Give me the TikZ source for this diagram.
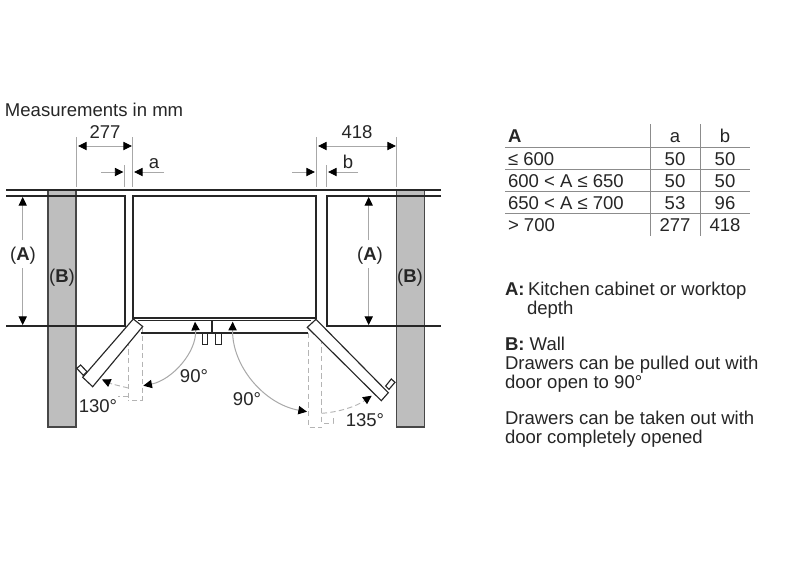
\documentclass[tikz,border=0pt]{standalone}
\usepackage{fontspec}
\setmainfont{Liberation Sans}
\usetikzlibrary{arrows.meta}
\definecolor{ink}{HTML}{262626}
\definecolor{wallgray}{HTML}{BEBEBE}
\definecolor{thin}{HTML}{A8A8A8}
\definecolor{dashgray}{HTML}{B4B4B4}
\tikzset{
  plan/.style={draw=black!85,line width=0.85pt},
  wall/.style={fill=wallgray,draw=black!72,line width=0.85pt},
  door/.style={fill=white,draw=black!85,line width=0.85pt},
  extline/.style={draw=thin,line width=0.65pt},
  dimline/.style={draw=thin,line width=0.65pt},
  tip/.style={-{Triangle[length=6.5pt,width=6.2pt,color=black]}},
  bothtips/.style={{Triangle[length=6.5pt,width=6.2pt,color=black]}-{Triangle[length=6.5pt,width=6.2pt,color=black]}},
  dashline/.style={draw=dashgray,line width=0.7pt,dash pattern=on 4pt off 2.5pt},
  swing/.style={draw=thin,line width=0.75pt},
  rule/.style={draw=black!45,line width=0.75pt},
  txt/.style={text=ink,font=\fontsize{13.9pt}{16pt}\selectfont,inner sep=0pt,outer sep=0pt},
  lbl/.style={txt,anchor=base west},
  mid/.style={txt,anchor=base}
}
\begin{document}
\begin{tikzpicture}[x=0.75pt,y=-0.75pt]
\useasboundingbox (0,0) rectangle (786,587);
\fill[white] (0,0) rectangle (786,587);
% walls
\draw[wall] (48,190) rectangle (76,427);
\draw[wall] (396.3,190) rectangle (424.5,427);
% cabinet and fridge lines
\draw[plan] (6,190) -- (441,190);
\draw[plan] (6,196) -- (125,196) -- (125,326) -- (6,326);
\draw[plan] (441,196) -- (327,196) -- (327,326) -- (441,326);
\draw[plan] (133,318) -- (133,196) -- (316,196) -- (316,318) -- cycle;
\draw[plan,line width=0.7pt] (138,320.5) -- (311,320.5);
\draw[plan] (141,333) -- (308,333);
\draw[plan,line width=1.2pt] (211.7,320) -- (211.7,333);
\draw[plan,line width=0.7pt,fill=white] (202.3,333) rectangle (207.7,344.5);
\draw[plan,line width=0.7pt,fill=white] (215.7,333) rectangle (221,344.5);
% dashed door outlines, left
\draw[dashline] (128.3,332) -- (128.3,397.5);
\draw[dashline] (142,327) -- (142,400) -- (128.3,400);
\draw[dashline] (128.3,388) -- (112,384);
\draw[dashline] (128.3,396.5) -- (118,396.5);
% dashed door outlines, right
\draw[dashline] (308.3,333) -- (308.3,427) -- (321.7,427);
\draw[dashline] (321.7,330) -- (321.7,423) -- (333,423) -- (333,418);
% doors
\draw[door] (76.7,368.3) -- (80.7,365) -- (87,371.7) -- (83.3,375.3) -- cycle;
\draw[door] (133.3,319) -- (142.7,326.5) -- (92.7,386.7) -- (82.7,377.3) -- cycle;
\draw[door] (385.7,386) -- (391.3,379) -- (395,382.3) -- (389,389.3) -- cycle;
\draw[door] (316,319.3) -- (307.3,327.3) -- (381.3,400.7) -- (388.3,392.7) -- cycle;
% swing arcs
\coordinate (lsA) at (195,321.7);
\coordinate (lsB) at (143.3,385.7);
\coordinate (rsA) at (232.7,321.7);
\coordinate (rsB) at (307,411.7);
\draw[swing,bothtips] (lsA) .. controls (197,352) and (172,380) .. (lsB);
\draw[swing,bothtips] (rsA) .. controls (232,366) and (264,404) .. (rsB);
\coordinate (dsA) at (321.7,413.3);
\coordinate (dsB) at (371.7,395.7);
\draw[dashline,tip] (dsA) .. controls (340,412) and (357,406) .. (dsB);
\coordinate (dlA) at (112,384);
\coordinate (dlB) at (102,379.5);
\draw[dashline,tip] (dlA) -- (dlB);
% dimension 277
\draw[extline] (76,137) -- (76,187);
\draw[extline] (132.7,137) -- (132.7,187);
\draw[dimline,bothtips] (78,146) -- (132,146);
% dimension a
\draw[extline] (124.7,165) -- (124.7,187);
\draw[dimline,tip] (101,172) -- (123.5,172);
\draw[dimline,tip] (164,172) -- (134,172);
% dimension 418
\draw[extline] (316,137) -- (316,187);
\draw[extline] (396.3,137) -- (396.3,187);
\draw[dimline,bothtips] (318,146) -- (396,146);
% dimension b
\draw[extline] (326.7,165) -- (326.7,187);
\draw[dimline,tip] (292,172) -- (315,172);
\draw[dimline,tip] (358,172) -- (328,172);
% depth arrows
\draw[dimline,tip] (22.7,240) -- (22.7,197);
\draw[dimline,tip] (22.7,268) -- (22.7,325);
\draw[dimline,tip] (368.7,240) -- (368.7,197);
\draw[dimline,tip] (368.7,268) -- (368.7,325);
% texts in drawing
\node[lbl] (title) at (5,116) {Measurements in mm};
\node[mid] (d277) at (105,138) {277};
\node[mid] (d418) at (357,138) {418};
\node[mid] (da) at (154,168) {a};
\node[mid] (db) at (348,168) {b};
\node[mid] (aL) at (23,260) {(\textbf{A})};
\node[mid] (aR) at (370,260) {(\textbf{A})};
\node[mid] (bL) at (62,282) {(\textbf{B})};
\node[mid] (bR) at (410,282) {(\textbf{B})};
\node[mid] (n90l) at (194,382) {90°};
\node[mid] (n130) at (98,412) {130°};
\node[mid] (n90r) at (247,405) {90°};
\node[mid] (n135) at (365,426) {135°};
% table
\draw[rule] (505,147.3) -- (750,147.3);
\draw[rule] (505,169.3) -- (750,169.3);
\draw[rule] (505,191.7) -- (750,191.7);
\draw[rule] (505,213.7) -- (750,213.7);
\draw[rule] (650.7,124) -- (650.7,235.7);
\draw[rule] (700,124) -- (700,235.7);
\node[lbl] (h1) at (508,142) {\textbf{A}};
\node[mid] (h2) at (675,142) {a};
\node[mid] (h3) at (725,142) {b};
\node[lbl] (r1) at (508,165) {≤ 600};
\node[mid] (r1a) at (675,165) {50};
\node[mid] (r1b) at (725,165) {50};
\node[lbl] (r2) at (508,187) {600 < A ≤ 650};
\node[mid] (r2a) at (675,187) {50};
\node[mid] (r2b) at (725,187) {50};
\node[lbl] (r3) at (508,209) {650 < A ≤ 700};
\node[mid] (r3a) at (675,209) {53};
\node[mid] (r3b) at (725,209) {96};
\node[lbl] (r4) at (508,231) {> 700};
\node[mid] (r4a) at (675,231) {277};
\node[mid] (r4b) at (725,231) {418};
% notes
\node[lbl] (ka) at (505,295) {\textbf{A:}};
\node[lbl] (kat) at (528,295) {Kitchen cabinet or worktop};
\node[lbl] (kat2) at (527,314) {depth};
\node[lbl] (kb) at (505,350) {\textbf{B:} Wall};
\node[lbl] (n1) at (505,369) {Drawers can be pulled out with};
\node[lbl] (n2) at (505,388) {door open to 90°};
\node[lbl] (n3) at (505,424) {Drawers can be taken out with};
\node[lbl] (n4) at (505,443) {door completely opened};
\end{tikzpicture}
\end{document}
